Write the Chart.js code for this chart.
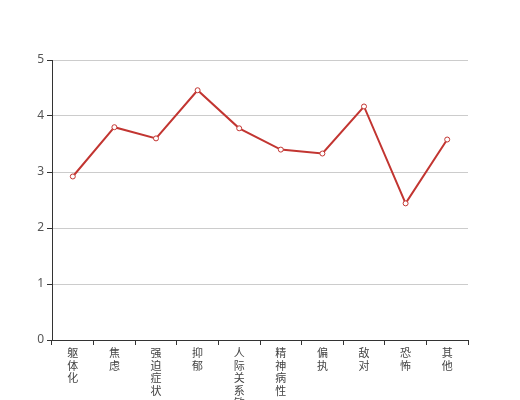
<!DOCTYPE html>
<html>
<head>
<meta charset="utf-8">
<script src="https://cdn.jsdelivr.net/npm/chart.js@4"></script>
<style>
  html, body { margin: 0; padding: 0; background: #fff; }
  #wrap { width: 520px; height: 400px; }
</style>
</head>
<body>
<div id="wrap"><canvas id="scoreChart" width="520" height="400"></canvas></div>
<script>
// SCL-90 factor names and scores
const factors = ['躯体化', '焦虑', '强迫症状', '抑郁', '人际关系敏感', '精神病性', '偏执', '敌对', '恐怖', '其他'];
const scores = [2.92, 3.80, 3.60, 4.46, 3.78, 3.40, 3.33, 4.17, 2.44, 3.58];
const yTicks = [0, 1, 2, 3, 4, 5];

// stack the characters vertically, one per line
const stackedLabels = factors.map(f => f.split(''));

const ctx = document.getElementById('scoreChart');

new Chart(ctx, {
    type: 'line',
    data: {
        labels: stackedLabels,
        datasets: [{
            label: '得分',
            data: scores,
            borderColor: '#c23531',
            borderWidth: 2,
            backgroundColor: '#ffffff',
            pointBorderColor: '#c23531',
            pointBackgroundColor: '#ffffff',
            pointBorderWidth: 1,
            pointRadius: 2.5,
            tension: 0,
        }],
    },
    options: {
        responsive: false,
        animation: false,
        layout: {
            padding: { left: 0, right: 52, top: 60, bottom: 0 },
        },
        plugins: {
            legend: { display: false },
            tooltip: { enabled: false },
        },
        scales: {
            x: {
                offset: true,
                afterFit: (scale) => { scale.height = 60; },
                grid: {
                    offset: true,
                    drawOnChartArea: false,
                    drawTicks: true,
                    tickLength: 5,
                    tickColor: '#333',
                },
                border: { color: '#333', width: 1 },
                ticks: {
                    autoSkip: false,
                    maxRotation: 0,
                    padding: 2,
                    color: '#444',
                    font: { family: "'Noto Sans CJK SC', sans-serif", size: 11, lineHeight: '12.5px' },
                },
            },
            y: {
                min: 0,
                max: 5,
                afterFit: (scale) => { scale.width = 52; },
                afterBuildTicks: (scale) => { scale.ticks = yTicks.map(v => ({ value: v })); },
                grid: {
                    color: '#ccc',
                    tickColor: '#333',
                    tickLength: 5,
                },
                border: { color: '#333', width: 1 },
                ticks: {
                    padding: 3,
                    color: '#555',
                    font: { family: "'Noto Sans', sans-serif", size: 12 },
                },
            },
        },
    },
});
</script>
</body>
</html>
